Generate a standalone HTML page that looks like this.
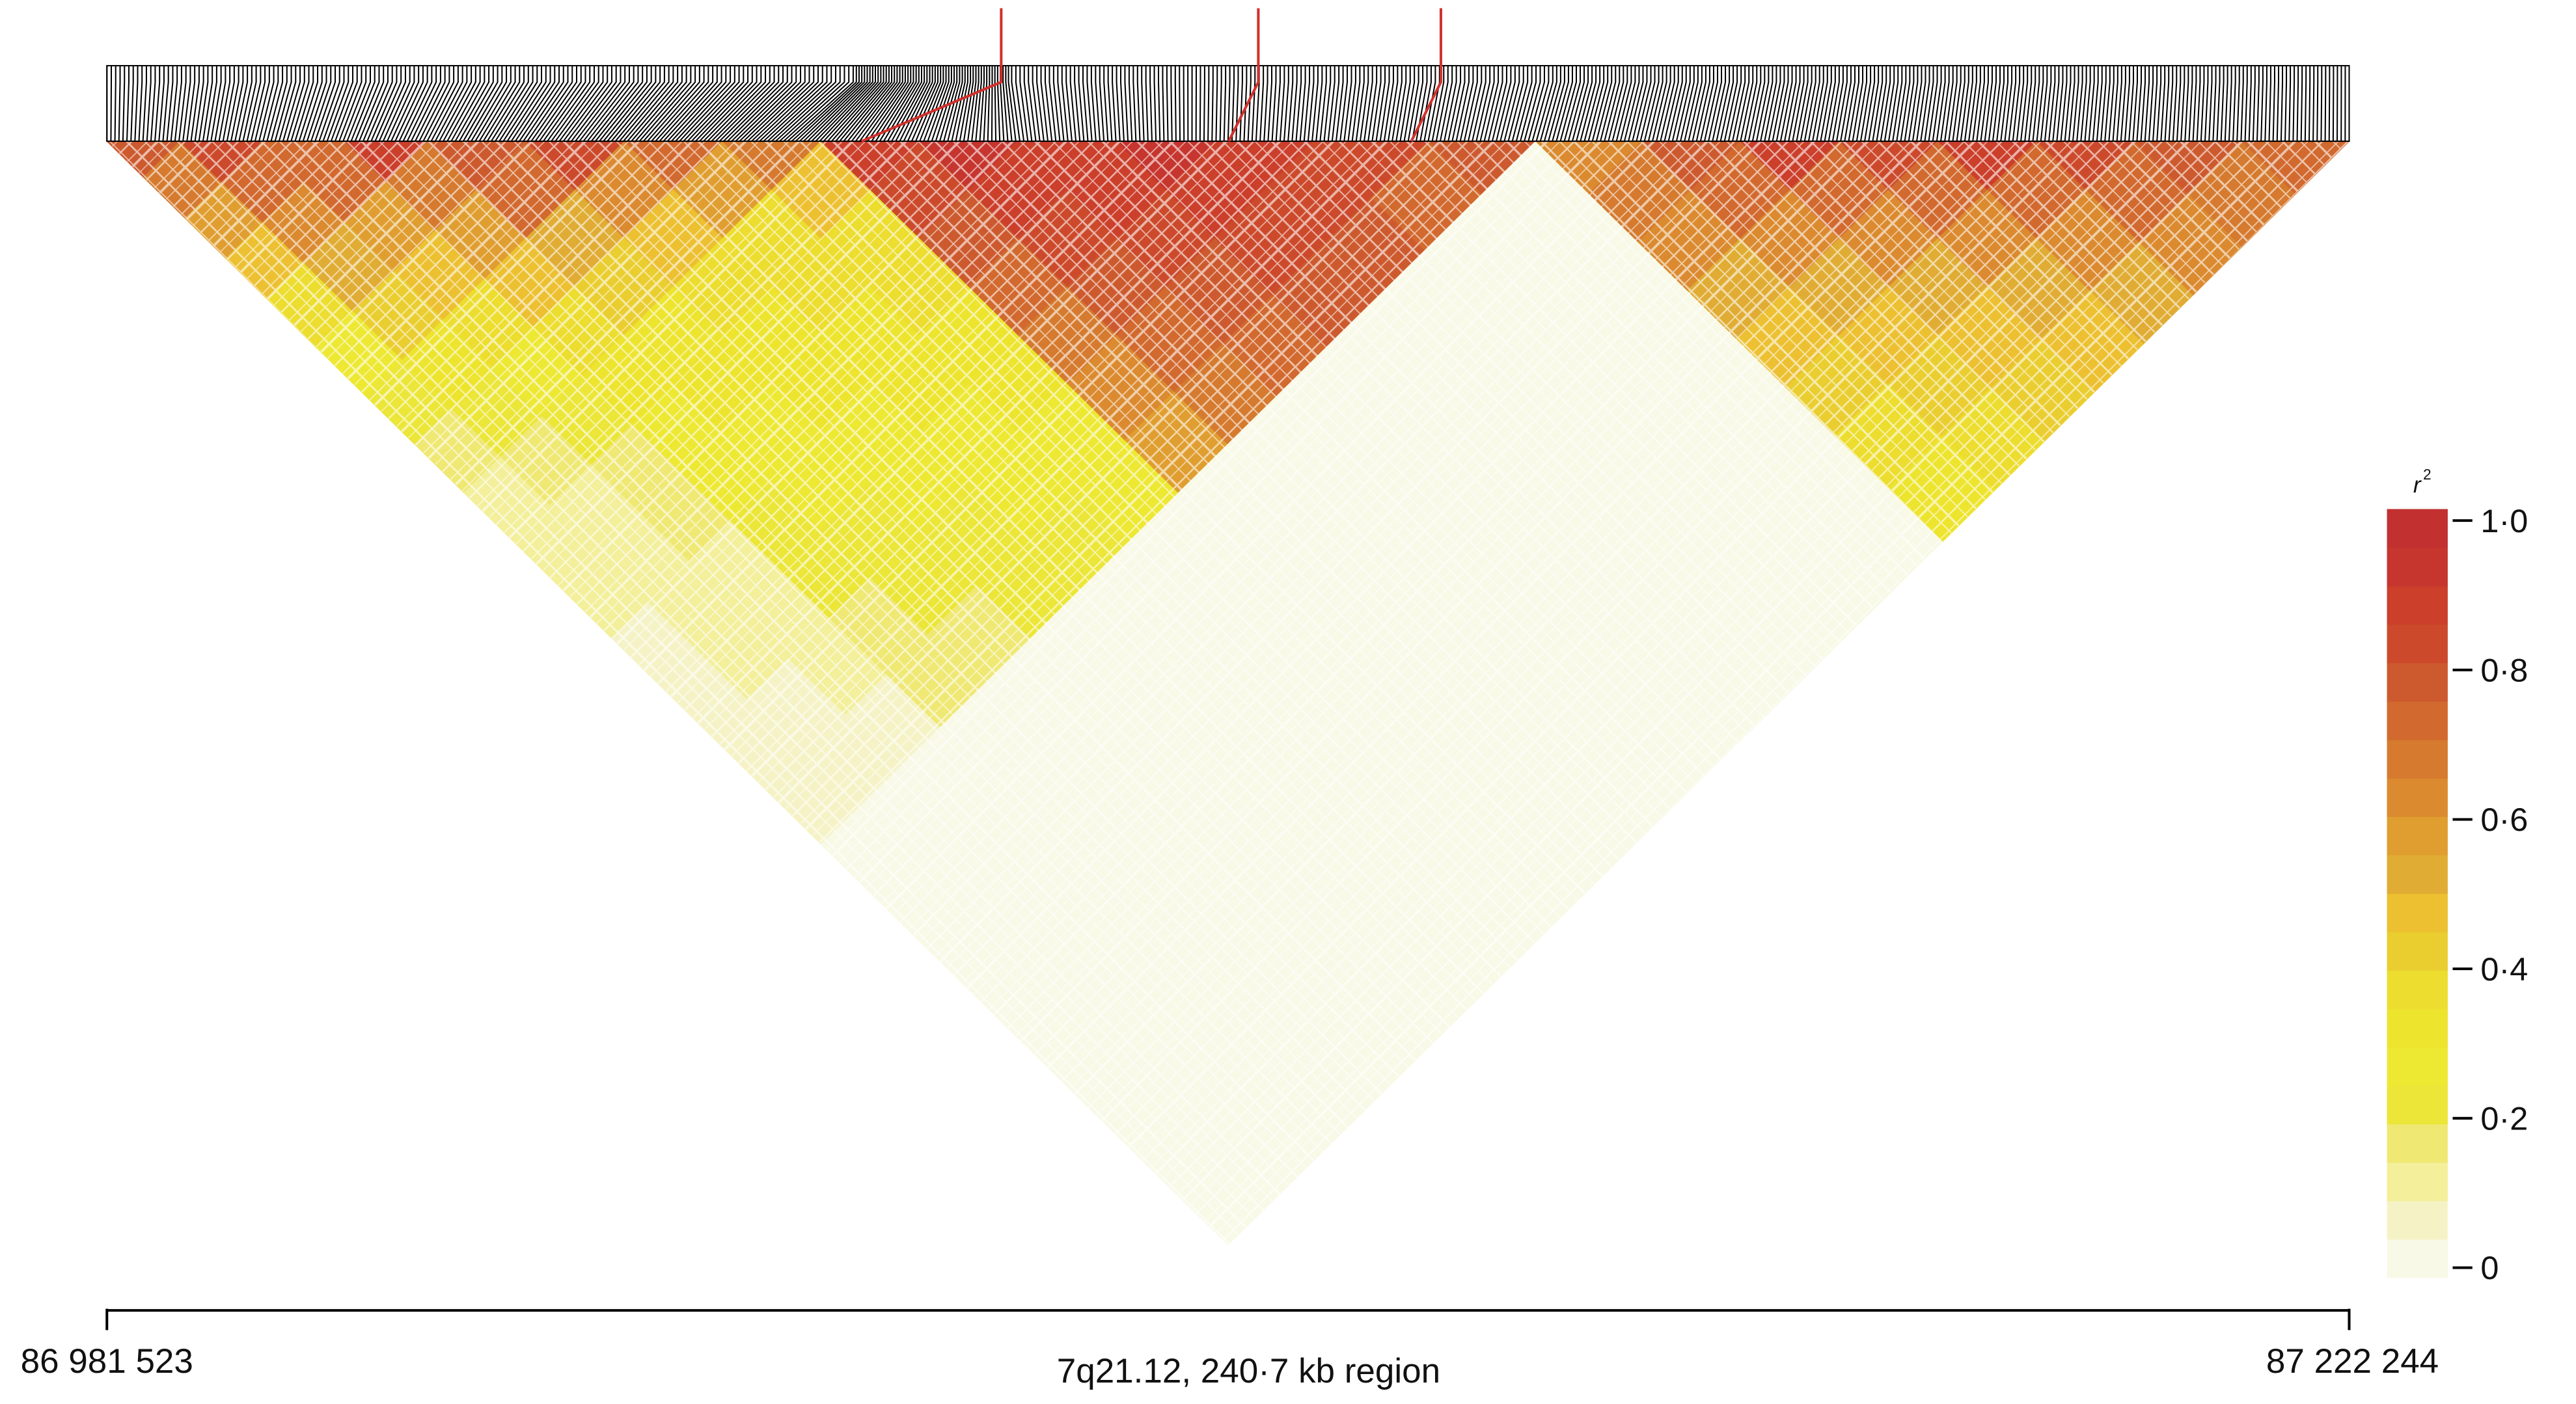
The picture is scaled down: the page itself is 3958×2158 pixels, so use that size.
<!DOCTYPE html>
<html><head><meta charset="utf-8">
<style>
html,body{margin:0;padding:0;background:#fff;}
svg{display:block;}
text{font-family:"Liberation Sans",sans-serif;fill:#111;}
</style></head>
<body>
<svg id="chart" width="3958" height="2158" viewBox="0 0 1568 855" xmlns="http://www.w3.org/2000/svg">
<defs>
<pattern id="streakA" patternUnits="userSpaceOnUse" width="23" height="23" patternTransform="rotate(45)">
<rect x="2" y="0" width="1" height="23" fill="#fff"/><rect x="9" y="0" width="0.7" height="23" fill="#fff"/><rect x="13" y="0" width="1.5" height="23" fill="#fff"/><rect x="19" y="0" width="0.6" height="23" fill="#fff"/>
</pattern>
<pattern id="streakB" patternUnits="userSpaceOnUse" width="29" height="29" patternTransform="rotate(-45)">
<rect x="1" y="0" width="0.8" height="29" fill="#fff"/><rect x="7" y="0" width="1.3" height="29" fill="#fff"/><rect x="15" y="0" width="0.7" height="29" fill="#fff"/><rect x="22" y="0" width="1.1" height="29" fill="#fff"/>
</pattern>
<clipPath id="triClip"><polygon points="65,86 1430,86 747.5,758"/></clipPath>
</defs>
<g id="heat"></g>
<g clip-path="url(#triClip)" opacity="0.6">
<rect x="0" y="0" width="1568" height="855" fill="url(#streakA)"/>
<rect x="0" y="0" width="1568" height="855" fill="url(#streakB)"/>
</g>
<g id="markers"></g>
<rect x="65" y="40" width="1365" height="46" fill="none" stroke="#000" stroke-width="0.8"/>
<g id="redmarks"></g>
<g id="cbar"></g>
<g>
<line x1="65" y1="798" x2="1430" y2="798" stroke="#000" stroke-width="1.6"/>
<line x1="65" y1="797" x2="65" y2="810" stroke="#000" stroke-width="1.6"/>
<line x1="1430" y1="797" x2="1430" y2="810" stroke="#000" stroke-width="1.6"/>
<text x="65" y="836" font-size="21" text-anchor="middle">86 981 523</text>
<text x="1432" y="836" font-size="21" text-anchor="middle">87 222 244</text>
<text x="760" y="842" font-size="21" text-anchor="middle">7q21.12, 240·7 kb region</text>
</g>
</svg>
<script>
// Genomic block boundaries (kb from region start)
const blockKb = [0,7.9,16.8,25.6,34.4,45.0,55.6,66.1,76.7,87.3,97.8,108.4,119.0,129.6,141.9,153.4,164.8,175.4,186.0,196.6,207.2,217.7,229.2,240.7];
// r² (percent) between block i and blocks j>=i
const r2Rows = [
[75,65,55,45,35,25,20,15, 12,10,10,8,8,6,5, 2,2,2,2,2,2,2,2],
[80,70,60,50,40,30,22, 15,12,12,10,10,8,6, 2,2,2,2,2,2,2,2],
[70,70,55,45,35,28, 20,18,15,12,10,10,8, 2,2,2,2,2,2,2,2],
[85,65,55,45,35, 30,28,25,22,20,18,15, 3,2,2,2,2,2,2,2],
[75,70,50,40, 32,30,28,25,22,20,18, 3,2,2,2,2,2,2,2],
[80,60,45, 35,30,30,28,25,22,20, 3,2,2,2,2,2,2,2],
[70,55, 38,35,32,30,28,25,22, 3,2,2,2,2,2,2,2],
[65, 45,38,35,32,30,28,25, 3,2,2,2,2,2,2,2],
[85,80,75,70,65,60,55, 3,2,2,2,2,2,2,2],
[90,85,80,75,70,65, 3,3,2,2,2,2,2,2],
[85,85,80,75,70, 3,3,2,2,2,2,2,2],
[90,85,80,75, 4,3,3,2,2,2,2,2],
[85,80,75, 4,3,3,2,2,2,2,2],
[80,70, 4,3,3,3,2,2,2,2],
[75, 4,4,3,3,3,2,2,2],
[60,65,60,50,45,40,35,30],
[75,70,60,50,45,40,35],
[85,70,60,50,45,40],
[80,70,60,50,45],
[85,70,60,50],
[80,70,60],
[75,65],
[70]
];
// colour scale steps (0 → 1 in 0.05 steps)
const scaleColors = ["#f8f9e6","#f5f3c6","#f3ef9a","#efe873","#ebe637","#ede832","#ede42e","#ecdd2e","#eace30","#ecc030","#e0ac33","#e09e30","#db8a2f","#d57a2e","#d2692e","#cd5a2e","#cc4a2b","#cb3f2b","#c6352e","#c23030"];
const scaleTicks = [0,0.2,0.4,0.6,0.8,1.0];
const scaleTickLabels = ["0","0·2","0·4","0·6","0·8","1·0"];
const highlightKb = [96.0,123.6,143.2];

const NS="http://www.w3.org/2000/svg";
const X0=65,X1=1430,TOP=86,K=672/682.5,TOTAL=240.7;
const xs=kb=>X0+kb/TOTAL*(X1-X0);
const pt=(pi,pj)=>[(pi+pj)/2, TOP+(pj-pi)/2*K];
const colorFor=v=>scaleColors[Math.min(19,Math.max(0,Math.floor(v*20)))];
function mk(tag,attrs,parent){const e=document.createElementNS(NS,tag);for(const k in attrs)e.setAttribute(k,attrs[k]);parent.appendChild(e);return e;}

const heat=document.getElementById('heat');
for(let i=0;i<r2Rows.length;i++){
  for(let k=0;k<r2Rows[i].length;k++){
    const j=i+k; if(j>=blockKb.length-1) continue;
    const sa=xs(blockKb[i]),ea=xs(blockKb[i+1]),sb=xs(blockKb[j]),eb=xs(blockKb[j+1]);
    let pts;
    if(i===j) pts=[pt(sa,sa),pt(sa,ea),pt(ea,ea)];
    else pts=[pt(sa,sb),pt(sa,eb),pt(ea,eb),pt(ea,sb)];
    const c=colorFor(r2Rows[i][k]/100);
    const p=mk('polygon',{points:pts.map(q=>q[0].toFixed(2)+','+q[1].toFixed(2)).join(' '),fill:c,stroke:c,'stroke-width':0.6},heat);
    
    
  }
}

// SNP marker lines
const markers=document.getElementById('markers');
const bIn=[65,480,620,935,1430], tOut=[65,520,615,945,1430];
function mapTop(b){for(let s=0;s<bIn.length-1;s++){if(b<=bIn[s+1]){const f=(b-bIn[s])/(bIn[s+1]-bIn[s]);return tOut[s]+f*(tOut[s+1]-tOut[s]);}}return b;}
let d="";const N=560;
for(let n=0;n<=N;n++){const b=X0+n*(X1-X0)/N;const t=mapTop(b);d+=`M${t.toFixed(2)},40V50L${b.toFixed(2)},86`;}
const ml=mk('path',{d:d,fill:'none',stroke:'#000','stroke-width':0.8},markers);



const red=document.getElementById('redmarks');
highlightKb.forEach(kb=>{
  const t=xs(kb);
  const b=t+(kb<100?-85:-18);
  const l=mk('path',{d:`M${t},5V50L${b},86`,fill:'none',stroke:'#d0312d','stroke-width':1.6},red);
  
  
});

// colour bar
const cb=document.getElementById('cbar');
const CB_X=1453,CB_W=37,CB_TOP=310,CB_BOT=778,T1=317,T0=772;
const step=(CB_BOT-CB_TOP)/scaleColors.length;
scaleColors.forEach((c,i)=>{
  const r=mk('rect',{x:CB_X,y:(CB_BOT-(i+1)*step).toFixed(2),width:CB_W,height:(step+0.3).toFixed(2),fill:c},cb);
  
  
});
const ty=v=>T0+(T1-T0)*v;
scaleTicks.forEach((v,i)=>{
  const l=mk('line',{x1:1493,x2:1505,y1:ty(v),y2:ty(v),stroke:'#000','stroke-width':1.6},cb);
  
  
  const t=mk('text',{x:1510,y:ty(v)+7,'font-size':20},cb);
  t.textContent=scaleTickLabels[i];
  
  
});
const tt=mk('text',{x:1469,y:300,'font-size':14,'font-style':'italic'},cb);
tt.textContent='r';


const sup=mk('text',{x:1475,y:292,'font-size':9},cb);
sup.textContent='2';


</script>
</body></html>
